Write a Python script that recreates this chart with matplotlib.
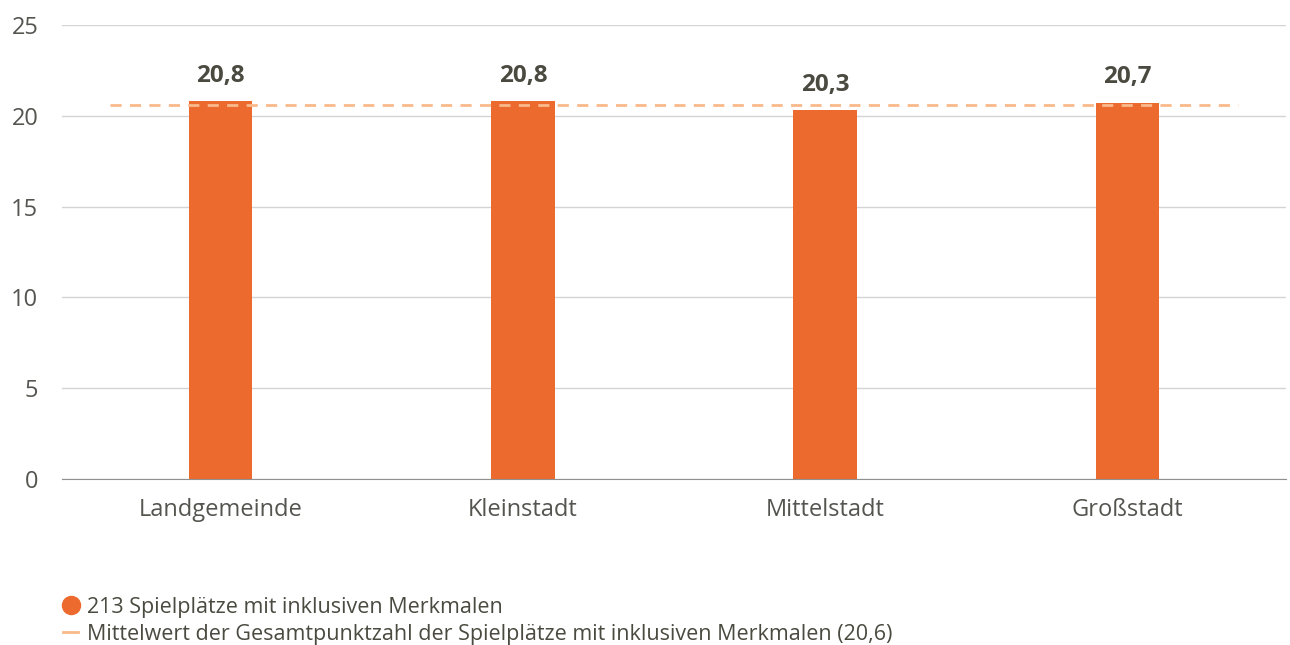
import matplotlib.pyplot as plt
from matplotlib.lines import Line2D

categories = ["Landgemeinde", "Kleinstadt", "Mittelstadt", "Großstadt"]
values = [20.8, 20.8, 20.3, 20.7]
mean_value = 20.6
bar_label = "213 Spielplätze mit inklusiven Merkmalen"
mean_label = "Mittelwert der Gesamtpunktzahl der Spielplätze mit inklusiven Merkmalen (20,6)"

plt.rcParams["font.family"] = ["Open Sans", "DejaVu Sans"]

bar_color = "#ec6a2e"
mean_color = "#f9b98a"
text_color = "#4a4a40"

fig = plt.figure(figsize=(12.9, 6.45), dpi=100)
ax = fig.add_axes([0.048, 0.2574, 0.949, 0.7038])

x = range(len(categories))
ax.bar(x, values, width=0.21, color=bar_color, zorder=2)
ax.plot([-0.365, 3.365], [mean_value, mean_value], color=mean_color,
        linestyle=(0, (4, 3)), linewidth=2, zorder=3)

for xi, v in zip(x, values):
    ax.text(xi, v + 0.75, f"{v:.1f}".replace(".", ","), ha="center", va="bottom",
            fontsize=17.5, fontweight="bold", color=text_color)

ax.set_xlim(-0.525, 3.525)
ax.set_ylim(0, 25)
ax.set_yticks([0, 5, 10, 15, 20, 25])
ax.set_xticks(list(x))
ax.set_xticklabels(categories)
ax.tick_params(axis="both", length=0, labelsize=17, labelcolor="#555550")
ax.tick_params(axis="x", pad=14)
ax.tick_params(axis="y", pad=17)
ax.grid(axis="y", color="#d4d4d4", linewidth=1, zorder=0)
for s in ["top", "right", "left"]:
    ax.spines[s].set_visible(False)
ax.spines["bottom"].set_color("#909090")
ax.spines["bottom"].set_zorder(4)

handles = [
    Line2D([], [], marker="o", linestyle="none", markersize=13, color=bar_color),
    Line2D([], [], color=mean_color, linewidth=2),
]
fig.legend(handles, [bar_label, mean_label], loc="lower left",
           bbox_to_anchor=(0.034, -0.03), frameon=False, fontsize=15.5,
           labelcolor=text_color, handlelength=0.7, handletextpad=0.4,
           labelspacing=0.3)

fig.savefig("out.png", dpi=100)
